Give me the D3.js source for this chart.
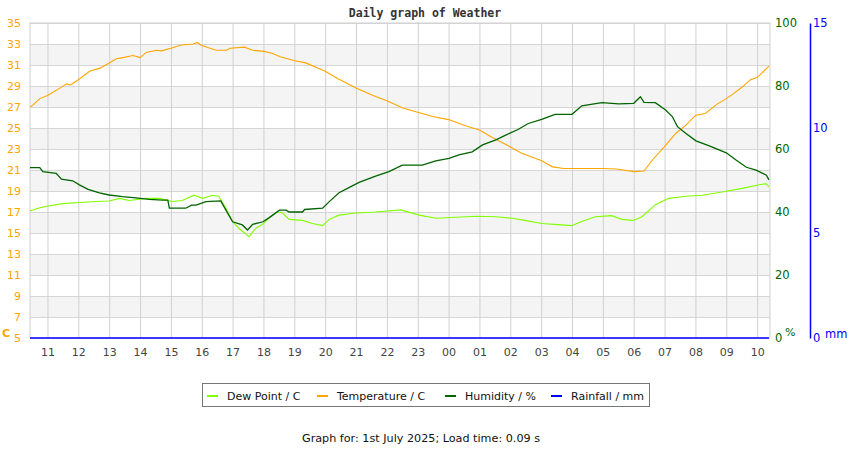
<!DOCTYPE html>
<html>
<head>
<meta charset="utf-8">
<script src="https://cdn.jsdelivr.net/npm/d3@7"></script>
<style>
body { margin: 0; background: #fff; }
text { font-family: "DejaVu Sans", sans-serif; }
</style>
</head>
<body>
<div id="chart"></div>
<script>
// readings, times are HH:MM (anything earlier than 10:26 belongs to the next day)
var tempTimes = ["10:26","10:32","10:45","11:00","11:24","11:37","11:45","12:00","12:22","12:42","13:00","13:14","13:27","13:46","14:00","14:12","14:32","14:42","15:00","15:20","15:43","15:51","16:00","16:28","16:48","16:55","17:23","17:39","18:01","18:18","18:31","19:01","19:22","20:00","20:25","21:00","21:33","22:00","22:31","23:00","23:29","00:00","00:34","01:00","01:25","02:00","02:22","03:00","03:22","03:44","04:00","05:00","05:26","06:01","06:20","06:37","07:02","07:22","07:40","08:00","08:20","08:40","09:00","09:12","09:31","09:47","10:00","10:23"];
var tempValues = [27.0,27.2,27.8,28.1,28.8,29.2,29.1,29.6,30.4,30.7,31.2,31.6,31.7,31.9,31.7,32.2,32.4,32.35,32.6,32.9,33.0,33.15,32.85,32.4,32.4,32.6,32.7,32.4,32.3,32.1,31.8,31.4,31.2,30.4,29.7,28.8,28.1,27.6,26.9,26.5,26.1,25.8,25.2,24.8,24.1,23.2,22.6,21.9,21.3,21.15,21.15,21.15,21.1,20.85,20.9,22.0,23.35,24.5,25.2,26.2,26.4,27.2,27.8,28.2,28.9,29.6,29.8,30.9];

var humTimes = ["10:26","10:45","10:51","11:17","11:27","11:49","12:02","12:19","12:41","13:00","13:26","13:52","14:18","14:44","14:54","14:57","15:29","15:40","15:49","16:08","16:37","16:47","17:00","17:19","17:29","17:39","17:59","18:12","18:31","18:44","18:50","19:16","19:20","19:55","20:08","20:27","20:47","21:06","21:38","22:04","22:30","23:09","23:35","00:01","00:20","00:46","01:06","01:32","01:51","02:15","02:35","03:01","03:27","04:00","04:19","04:58","05:31","06:00","06:13","06:20","06:42","07:02","07:15","07:25","07:41","08:01","08:27","09:00","09:19","09:39","09:58","10:18","10:23"];
var humValues = [54.1,54.1,52.8,52.3,50.4,49.9,48.6,47.2,46.1,45.4,44.9,44.5,44.0,43.8,43.8,41.2,41.2,42.2,42.2,43.3,43.5,40.6,36.9,35.9,34.3,36.1,36.9,38.3,40.6,40.6,40.0,40.0,40.8,41.2,43.3,46.1,47.8,49.4,51.4,52.8,54.9,54.9,56.2,57.0,58.1,59.1,61.3,62.9,64.4,66.2,68.1,69.4,71.0,71.0,73.7,74.7,74.3,74.5,76.6,74.8,74.7,72.4,70.3,67.1,65.0,62.6,61.0,58.8,56.5,54.2,53.3,51.7,50.2];

var dewTimes = ["10:26","10:45","11:04","11:30","12:02","12:35","13:00","13:20","13:39","14:12","14:38","15:03","15:22","15:45","16:02","16:21","16:33","16:47","17:00","17:12","17:32","17:45","17:58","18:12","18:27","18:37","18:50","19:16","19:35","19:55","20:08","20:27","20:59","21:38","22:27","23:03","23:35","00:14","00:53","01:32","02:04","02:28","03:01","03:33","03:59","04:19","04:45","05:17","05:37","05:59","06:16","06:42","07:08","07:41","08:13","08:52","09:31","10:04","10:17","10:23"];
var dewValues = [17.1,17.4,17.6,17.8,17.9,18.0,18.05,18.3,18.1,18.3,18.3,18.0,18.1,18.6,18.3,18.6,18.5,17.35,16.1,15.45,14.65,15.45,15.8,16.5,17.0,16.9,16.3,16.2,15.9,15.7,16.3,16.7,16.9,17.0,17.2,16.7,16.4,16.5,16.6,16.55,16.4,16.2,15.9,15.8,15.7,16.1,16.55,16.65,16.3,16.2,16.55,17.7,18.3,18.5,18.6,18.9,19.25,19.6,19.7,19.4];

var rainTimes = ["10:26","10:23"];
var rainValues = [0,0];

var tempTicks = [5,7,9,11,13,15,17,19,21,23,25,27,29,31,33,35];
var humTicks = [0,20,40,60,80,100];
var rainTicks = [0,5,10,15];
var legendLabels = ["Dew Point / C","Temperature / C","Humidity / %","Rainfall / mm"];
var legendColors = ["#80ff00","#ffa500","#006400","#0000ff"];

var w = 850, h = 450;
var margin = { top: 23, right: 80, bottom: 112, left: 30 };
var width = 740, height = 315;

function toDate(s) {
    var p = s.split(":").map(Number);
    var day = (p[0] * 60 + p[1] < 10 * 60 + 26) ? 1 : 0;
    return new Date(2025, 5, 30 + day, p[0], p[1]);
}
function series(times, values) {
    return times.map(function(t, i) { return { t: toDate(t), v: values[i] }; });
}

var start = toDate("10:26"), end = toDate("10:25");

var x = d3.scaleTime().domain([start, end]).range([0, width]);
var yT = d3.scaleLinear().domain([5, 35]).range([height, 0]);
var yH = d3.scaleLinear().domain([0, 100]).range([height, 0]);
var yR = d3.scaleLinear().domain([0, 15]).range([height, 0]);

var svg = d3.select("#chart").append("svg")
    .attr("width", w).attr("height", h);

svg.append("text")
    .attr("x", 425).attr("y", 17)
    .attr("text-anchor", "middle")
    .style("font-family", "'DejaVu Sans Mono', monospace")
    .attr("font-weight", "bold")
    .attr("font-size", "11.5px")
    .attr("fill", "#333")
    .text("Daily graph of Weather");

var g = svg.append("g")
    .attr("transform", "translate(" + margin.left + "," + margin.top + ")");

// alternating bands
var bands = tempTicks.filter(function(d, i) { return i < tempTicks.length - 1 && (d - 7) % 4 == 0; });
g.selectAll(".band").data(bands).enter().append("rect")
    .attr("x", 0).attr("width", width)
    .attr("y", function(d) { return yT(d + 2); })
    .attr("height", function(d) { return yT(d) - yT(d + 2); })
    .attr("fill", "#f4f4f4");

// gridlines
g.append("g").attr("class", "grid")
    .call(d3.axisLeft(yT).tickValues(tempTicks).tickSize(-width).tickFormat(""))
    .call(function(s) { s.select(".domain").remove(); s.selectAll("line").attr("stroke", "#d6d6d6"); });
g.append("g").attr("class", "grid")
    .attr("transform", "translate(0," + height + ")")
    .call(d3.axisBottom(x).ticks(d3.timeHour.every(1)).tickSize(-height).tickFormat(""))
    .call(function(s) { s.select(".domain").remove(); s.selectAll("line").attr("stroke", "#d0d0d0"); });

g.append("rect")
    .attr("width", width).attr("height", height)
    .attr("fill", "none").attr("stroke", "#d0d0d0");

// x axis labels
var xAxis = g.append("g")
    .attr("transform", "translate(0," + height + ")")
    .call(d3.axisBottom(x).ticks(d3.timeHour.every(1)).tickSize(0).tickPadding(10).tickFormat(d3.timeFormat("%H")));
xAxis.select(".domain").remove();
xAxis.selectAll("text").attr("font-size", "11px").attr("fill", "#444").style("font-family", "'DejaVu Sans', sans-serif");

// left temperature axis
var lAxis = g.append("g")
    .call(d3.axisLeft(yT).tickValues(tempTicks).tickSize(0).tickPadding(9));
lAxis.select(".domain").remove();
lAxis.selectAll("text").attr("font-size", "11px").attr("fill", "#ffa500").style("font-family", "'DejaVu Sans', sans-serif");
svg.append("text").attr("x", 2).attr("y", 337).attr("font-size", "11px").attr("font-weight", "bold")
    .attr("fill", "#ffa500").text("C");

// right humidity axis
var hAxis = g.append("g")
    .attr("transform", "translate(" + width + ",0)")
    .call(d3.axisRight(yH).tickValues(humTicks).tickSize(0).tickPadding(5));
hAxis.select(".domain").remove();
hAxis.selectAll("text").attr("font-size", "11.5px").attr("fill", "#006400").style("font-family", "'DejaVu Sans', sans-serif");
svg.append("text").attr("x", 785).attr("y", 336).attr("font-size", "11px")
    .attr("fill", "#006400").text("%");

// rainfall axis
var rAxis = g.append("g")
    .attr("transform", "translate(780,0)")
    .call(d3.axisRight(yR).tickValues(rainTicks).tickSize(0).tickPadding(3));
rAxis.select(".domain").attr("stroke", "#0000ff").attr("stroke-width", 1.5);
rAxis.selectAll("text").attr("font-size", "11.5px").attr("fill", "#0000ff").style("font-family", "'DejaVu Sans', sans-serif");
svg.append("text").attr("x", 825).attr("y", 338).attr("font-size", "11.5px")
    .attr("fill", "#0000ff").text("mm");

// lines
var lineT = d3.line().x(function(d) { return x(d.t); }).y(function(d) { return yT(d.v); });
var lineH = d3.line().x(function(d) { return x(d.t); }).y(function(d) { return yH(d.v); });
var lineR = d3.line().x(function(d) { return x(d.t); }).y(function(d) { return yR(d.v); });

g.append("path").datum(series(dewTimes, dewValues))
    .attr("d", lineT).attr("fill", "none").attr("stroke", "#80ff00").attr("stroke-width", 1.1);
g.append("path").datum(series(tempTimes, tempValues))
    .attr("d", lineT).attr("fill", "none").attr("stroke", "#ffa500").attr("stroke-width", 1.1);
g.append("path").datum(series(humTimes, humValues))
    .attr("d", lineH).attr("fill", "none").attr("stroke", "#006400").attr("stroke-width", 1.3);
g.append("path").datum(series(rainTimes, rainValues))
    .attr("d", lineR).attr("fill", "none").attr("stroke", "#0000ff").attr("stroke-width", 1.6);

// legend
var legend = svg.append("g");
legend.append("rect")
    .attr("x", 202.5).attr("y", 383.5).attr("width", 447).attr("height", 23)
    .attr("fill", "#fff").attr("stroke", "#777");
var legX = [207, 317, 445, 551];
var item = legend.selectAll(".item").data(legendLabels).enter().append("g")
    .attr("transform", function(d, i) { return "translate(" + legX[i] + ",396)"; });
item.append("line").attr("x1", 0).attr("x2", 11)
    .attr("stroke", function(d, i) { return legendColors[i]; }).attr("stroke-width", 2);
item.append("text").attr("x", 20).attr("y", 4)
    .attr("font-size", "11px").attr("fill", "#111")
    .text(function(d) { return d; });

svg.append("text")
    .attr("x", 421).attr("y", 442)
    .attr("text-anchor", "middle")
    .attr("font-size", "11.2px").attr("fill", "#111")
    .text("Graph for: 1st July 2025; Load time: 0.09 s");
</script>
</body>
</html>
